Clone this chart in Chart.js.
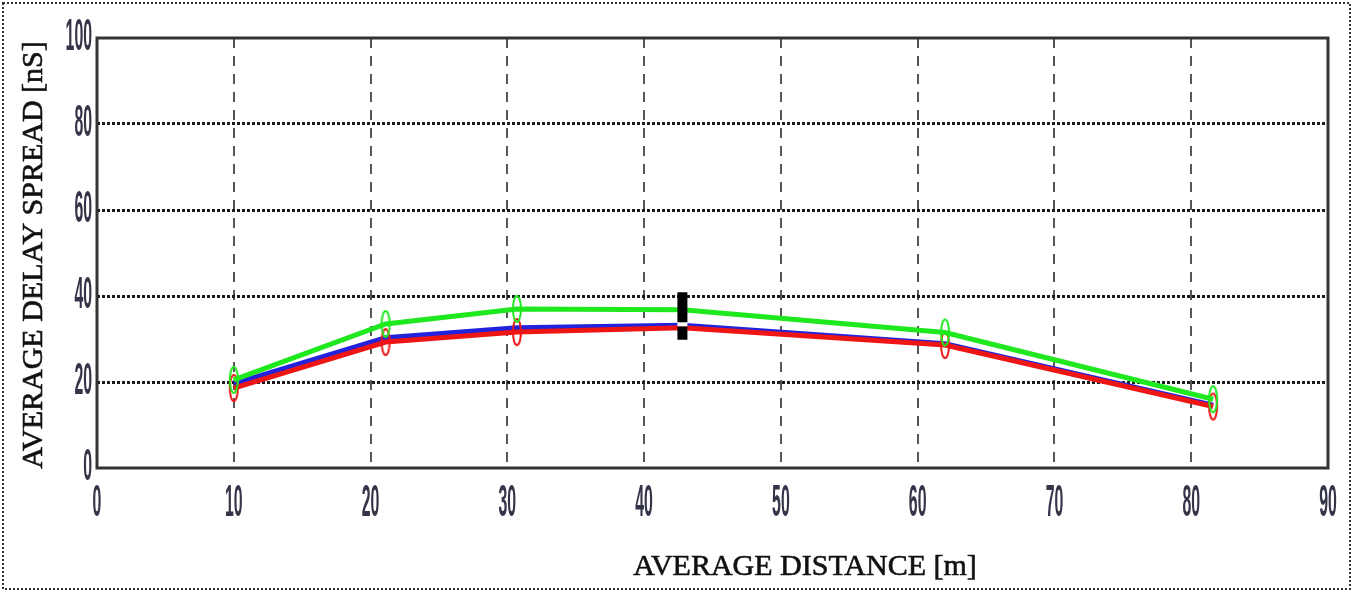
<!DOCTYPE html>
<html lang="en">
<head>
<meta charset="UTF-8">
<title>Average delay spread vs average distance</title>
<script src="https://cdn.jsdelivr.net/npm/chart.js"></script>
<style>
  html, body { margin: 0; padding: 0; background: #fff; }
</style>
</head>
<body>
<canvas id="delayChart" width="1354" height="592"></canvas>
<script>
// values
const distances = [10, 21.1, 30.7, 42.8, 62, 81.6];
const greenSpread = [20.5, 33.5, 37.0, 36.8, 31.5, 16.0];
const blueSpread = [19.6, 30.3, 32.6, 33.2, 28.9, 14.6];
const redSpread = [18.6, 29.3, 31.6, 32.6, 28.6, 14.3];
const markerX = 42.8;
const markerUpper = [40.9, 33.9];
const markerLower = [32.9, 29.8];
const xTicks = [0, 10, 20, 30, 40, 50, 60, 70, 80, 90];
const yTicks = [0, 20, 40, 60, 80, 100];
const xTitle = 'AVERAGE DISTANCE [m]';
const yTitle = 'AVERAGE DELAY SPREAD [nS]';

function toPoints(xs, ys) {
  return xs.map((x, i) => ({ x: x, y: ys[i] }));
}

// tall thin ellipse like the matlab "o" marker in the stretched image
function ellipseMarker(color) {
  const c = document.createElement('canvas');
  c.width = 12;
  c.height = 30;
  const g = c.getContext('2d');
  g.strokeStyle = color;
  g.lineWidth = 2;
  g.beginPath();
  g.ellipse(6, 15, 4, 13, 0, 0, Math.PI * 2);
  g.stroke();
  return c;
}

function squeezedText(ctx, text, x, y, align) {
  ctx.save();
  ctx.translate(x, y);
  ctx.scale(0.36, 1);
  ctx.textAlign = align;
  ctx.textBaseline = 'middle';
  ctx.fillText(text, 0, 0);
  ctx.restore();
}

const decorations = {
  id: 'decorations',
  beforeDraw(chart) {
    const ctx = chart.ctx;
    ctx.save();
    ctx.fillStyle = '#fff';
    ctx.fillRect(0, 0, chart.width, chart.height);
    ctx.strokeStyle = '#333';
    ctx.lineWidth = 2;
    ctx.setLineDash([2, 2]);
    ctx.strokeRect(3, 3, 1347, 586);
    ctx.restore();
  },
  beforeDatasetsDraw(chart) {
    const { ctx, chartArea: a } = chart;
    ctx.save();
    ctx.strokeStyle = '#333';
    ctx.lineWidth = 3;
    ctx.strokeRect(a.left, a.top, a.right - a.left, a.bottom - a.top);
    ctx.restore();
  },
  afterDraw(chart) {
    const ctx = chart.ctx;
    const xs = chart.scales.x;
    const ys = chart.scales.y;
    ctx.save();
    ctx.fillStyle = '#35354a';
    ctx.font = 'bold 44px "Liberation Sans", Arial, sans-serif';
    xTicks.forEach(v => squeezedText(ctx, String(v), xs.getPixelForValue(v), 504, 'center'));
    yTicks.forEach(v => squeezedText(ctx, String(v), 92, ys.getPixelForValue(v), 'right'));

    ctx.fillStyle = '#111';
    ctx.strokeStyle = '#111';
    ctx.lineWidth = 0.6;
    ctx.font = '30px "Liberation Serif", "Times New Roman", serif';
    ctx.textAlign = 'center';
    ctx.textBaseline = 'alphabetic';
    ctx.fillText(xTitle, 805, 575);
    ctx.strokeText(xTitle, 805, 575);
    ctx.translate(42, 255);
    ctx.rotate(-Math.PI / 2);
    ctx.fillText(yTitle, 0, 0);
    ctx.strokeText(yTitle, 0, 0);
    ctx.restore();
  }
};

new Chart(document.getElementById('delayChart'), {
  type: 'line',
  data: {
    datasets: [
      {
        data: [{ x: markerX, y: markerUpper[0] }, { x: markerX, y: markerUpper[1] }],
        borderColor: '#000',
        borderWidth: 10,
        borderCapStyle: 'butt',
        pointRadius: 0
      },
      {
        data: [{ x: markerX, y: markerLower[0] }, { x: markerX, y: markerLower[1] }],
        borderColor: '#000',
        borderWidth: 10,
        borderCapStyle: 'butt',
        pointRadius: 0
      },
      {
        // white gap between the two halves of the black marker
        data: [{ x: markerX, y: markerUpper[1] }, { x: markerX, y: markerLower[0] }],
        borderColor: '#fff',
        borderWidth: 10,
        borderCapStyle: 'butt',
        pointRadius: 0
      },
      {
        data: toPoints(distances, greenSpread),
        borderColor: '#1fe81f',
        borderWidth: 5,
        pointStyle: ellipseMarker('#1fe81f'),
        pointRadius: [3, 3, 3, 0, 3, 3]
      },
      {
        data: toPoints(distances, redSpread),
        borderColor: '#ee1515',
        borderWidth: 5,
        pointStyle: ellipseMarker('#ee1515'),
        pointRadius: [3, 3, 3, 0, 3, 3]
      },
      {
        data: toPoints(distances, blueSpread),
        borderColor: '#2222dd',
        borderWidth: 5,
        pointRadius: 0
      }
    ]
  },
  options: {
    responsive: false,
    animation: false,
    devicePixelRatio: 1,
    layout: { padding: { top: 38, right: 26, left: 0, bottom: 0 } },
    plugins: {
      legend: { display: false },
      tooltip: { enabled: false }
    },
    elements: { line: { tension: 0 } },
    scales: {
      x: {
        type: 'linear',
        min: 0,
        max: 90,
        ticks: { stepSize: 10, display: false },
        grid: {
          color: (c) => [0, 90].includes(c.tick && c.tick.value) ? 'rgba(0,0,0,0)' : '#555',
          lineWidth: 2,
          drawTicks: false
        },
        border: { display: false, dash: [10, 8] },
        afterFit: (s) => { s.height = 124; }
      },
      y: {
        min: 0,
        max: 100,
        ticks: { stepSize: 20, display: false },
        grid: {
          color: (c) => [0, 100].includes(c.tick && c.tick.value) ? 'rgba(0,0,0,0)' : '#1a1a1a',
          lineWidth: 3,
          drawTicks: false
        },
        border: { display: false, dash: [3, 2] },
        afterFit: (s) => { s.width = 97; }
      }
    }
  },
  plugins: [decorations]
});
</script>
</body>
</html>
